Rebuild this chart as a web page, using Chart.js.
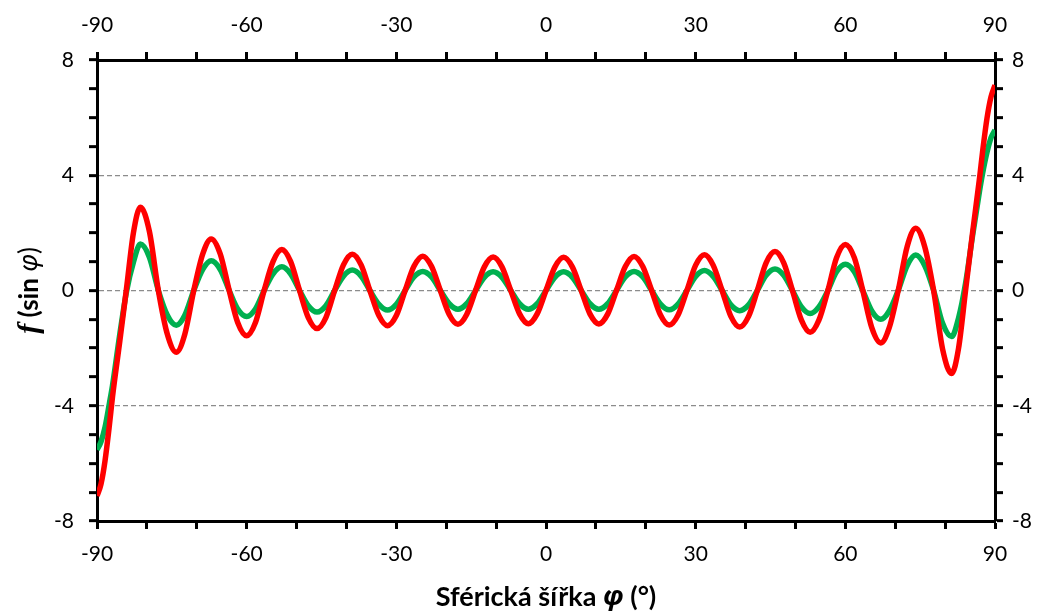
<!DOCTYPE html>
<html lang="cs">
<head>
<meta charset="utf-8">
<title>f(sin φ)</title>
<script src="https://cdn.jsdelivr.net/npm/chart.js@4/dist/chart.umd.min.js"></script>
<style>
  html, body { margin: 0; padding: 0; background: #fff; }
  #wrap { width: 1043px; height: 613px; }
</style>
</head>
<body>
<div id="wrap"><canvas id="chart" width="1043" height="613"></canvas></div>
<script>
// Hodnoty (zeměpisná šířka ve stupních)
const latitude = [
  -90, -89.2, -88.4, -87.5, -86.9, -85.5, -84.1, -82.7, -81.3, -79.5, -77.7, -75.9,
  -74.1, -72.4, -70.6, -68.8, -67.1, -65.3, -63.5, -61.8, -60.0, -58.24, -56.5, -54.7,
  -52.95, -51.2, -49.4, -47.65, -45.9, -44.12, -42.36, -40.6, -38.83, -37.06, -35.3, -33.5,
  -31.77, -30.0, -28.24, -26.47, -24.7, -22.95, -21.18, -19.4, -17.65, -15.9, -14.12, -12.36,
  -10.6, -8.83, -7.06, -5.3, -3.53, -1.77,
  0,
  1.77, 3.53, 5.3, 7.06, 8.83, 10.6, 12.36, 14.12, 15.9, 17.65, 19.4, 21.18,
  22.95, 24.7, 26.47, 28.24, 30.0, 31.77, 33.5, 35.3, 37.06, 38.83, 40.6, 42.36,
  44.12, 45.9, 47.65, 49.4, 51.2, 52.95, 54.7, 56.5, 58.24, 60.0, 61.8, 63.5,
  65.3, 67.1, 68.8, 70.6, 72.4, 74.1, 75.9, 77.7, 79.5, 81.3, 82.7, 84.1,
  85.5, 86.9, 87.5, 88.4, 89.2, 90
];

// červená křivka
const seriesRed = [
  -7.13, -6.72, -5.92, -4.65, -3.7, -1.85, 0.05, 2.0, 2.89, 2.05, 0, -1.52,
  -2.14, -1.52, 0, 1.27, 1.79, 1.27, 0, -1.11, -1.57, -1.11, 0, 1.01,
  1.42, 1.01, 0, -0.94, -1.32, -0.94, 0, 0.89, 1.26, 0.89, 0, -0.87,
  -1.22, -0.87, 0, 0.84, 1.19, 0.84, 0, -0.83, -1.17, -0.83, 0, 0.82,
  1.16, 0.82, 0, -0.81, -1.15, -0.81,
  0,
  0.81, 1.15, 0.81, 0, -0.82, -1.16, -0.82, 0, 0.83, 1.18, 0.83, 0,
  -0.85, -1.2, -0.85, 0, 0.88, 1.24, 0.88, 0, -0.9, -1.27, -0.9, 0,
  0.96, 1.35, 0.96, 0, -1.03, -1.45, -1.03, 0, 1.14, 1.6, 1.14, 0,
  -1.29, -1.82, -1.29, 0, 1.53, 2.16, 1.53, 0, -2.04, -2.88, -2.0, 0,
  2.0, 3.9, 4.8, 5.98, 6.72, 7.13
];

// zelená křivka
const seriesGreen = [
  -5.53, -5.25, -4.75, -3.9, -3.3, -1.6, -0.05, 0.98, 1.61, 1.15, 0, -0.86,
  -1.21, -0.86, 0, 0.73, 1.03, 0.73, 0, -0.64, -0.9, -0.64, 0, 0.58,
  0.82, 0.58, 0, -0.53, -0.75, -0.53, 0, 0.5, 0.71, 0.5, 0, -0.48,
  -0.68, -0.48, 0, 0.47, 0.66, 0.47, 0, -0.46, -0.65, -0.46, 0, 0.46,
  0.65, 0.46, 0, -0.46, -0.65, -0.46,
  0,
  0.46, 0.65, 0.46, 0, -0.46, -0.65, -0.46, 0, 0.47, 0.66, 0.47, 0,
  -0.47, -0.67, -0.47, 0, 0.49, 0.69, 0.49, 0, -0.5, -0.7, -0.5, 0,
  0.53, 0.75, 0.53, 0, -0.57, -0.8, -0.57, 0, 0.65, 0.91, 0.65, 0,
  -0.71, -1.0, -0.71, 0, 0.87, 1.23, 0.87, 0, -1.14, -1.6, -0.95, 0.25,
  1.9, 3.45, 4.05, 4.8, 5.3, 5.57
];

// popisky os
const xTickLabels = [-90, -60, -30, 0, 30, 60, 90];
const yTickLabels = [-8, -4, 0, 4, 8];
const yGridLines = [-4, 0, 4];

const FONT = "Lato, 'Open Sans', sans-serif";

const toPoints = (xs, ys) => xs.map((x, i) => ({ x: x, y: ys[i] }));

// vykreslení názvů os se smíšeným řezem písma
const drawParts = (ctx, parts, cx, cy) => {
  let total = 0;
  parts.forEach(p => {
    ctx.font = p.font;
    p.w = ctx.measureText(p.text).width;
    total += p.w;
  });
  let x = cx - total / 2;
  ctx.textAlign = 'left';
  ctx.textBaseline = 'middle';
  ctx.fillStyle = '#000';
  parts.forEach(p => {
    ctx.font = p.font;
    ctx.fillText(p.text, x, cy);
    x += p.w;
  });
};

const axisTitles = {
  id: 'axisTitles',
  afterDraw(chart) {
    const ctx = chart.ctx;
    const area = chart.chartArea;
    ctx.save();
    drawParts(ctx, [
      { text: 'Sférická šířka ', font: "bold 27px " + FONT },
      { text: 'φ', font: "italic bold 27px 'Noto Sans', 'DejaVu Sans', serif" },
      { text: ' (°)', font: "bold 27px " + FONT }
    ], (area.left + area.right) / 2, 597);
    ctx.restore();

    ctx.save();
    ctx.translate(30, (area.top + area.bottom) / 2);
    ctx.rotate(-Math.PI / 2);
    drawParts(ctx, [
      { text: 'f', font: "italic bold 30px 'Liberation Serif', 'DejaVu Serif', serif" },
      { text: ' (sin ', font: "bold 26px " + FONT },
      { text: 'φ', font: "italic 26px 'Noto Sans', 'DejaVu Sans', serif" },
      { text: ')', font: "26px " + FONT }
    ], 0, 0);
    ctx.restore();
  }
};

const tickFont = { family: FONT, size: 21 };

const xAxis = (position, padding, size) => ({
  type: 'linear',
  position: position,
  min: -90,
  max: 90,
  ticks: {
    stepSize: 10,
    autoSkip: false,
    maxRotation: 0,
    padding: padding,
    color: '#000',
    font: tickFont,
    callback: v => xTickLabels.includes(v) ? String(v) : ''
  },
  grid: { drawOnChartArea: false, tickLength: 8, tickWidth: 3, tickColor: '#000' },
  border: { color: '#000', width: 3 },
  afterFit: s => { s.height = size; }
});

const yAxis = (position, padding, size, withGrid) => ({
  type: 'linear',
  position: position,
  min: -8,
  max: 8,
  ticks: {
    stepSize: 1,
    autoSkip: false,
    padding: padding,
    color: '#000',
    font: tickFont,
    callback: v => yTickLabels.includes(v) ? String(v) : ''
  },
  grid: {
    drawOnChartArea: withGrid,
    tickLength: 8,
    tickWidth: 3,
    tickColor: '#000',
    lineWidth: 1.3,
    color: ctx => (ctx.tick && yGridLines.includes(ctx.tick.value)) ? '#8c8c8c' : 'rgba(0,0,0,0)'
  },
  border: { color: '#000', width: 3, dash: [5, 3] },
  afterFit: s => { s.width = size; }
});

const chart = new Chart(document.getElementById('chart'), {
  type: 'line',
  data: {
    datasets: [
      {
        label: 'červená',
        data: toPoints(latitude, seriesRed),
        borderColor: '#ff0000',
        borderWidth: 5.5,
        pointRadius: 0,
        fill: false,
        cubicInterpolationMode: 'monotone'
      },
      {
        label: 'zelená',
        data: toPoints(latitude, seriesGreen),
        borderColor: '#00b050',
        borderWidth: 5.5,
        pointRadius: 0,
        fill: false,
        cubicInterpolationMode: 'monotone'
      }
    ]
  },
  options: {
    responsive: false,
    animation: false,
    devicePixelRatio: 1,
    layout: { padding: 0 },
    plugins: {
      legend: { display: false },
      tooltip: { enabled: false }
    },
    scales: {
      x: xAxis('bottom', 13, 92),
      x2: xAxis('top', 14, 60),
      y: yAxis('left', 15, 97, true),
      y2: yAxis('right', 9, 48, false)
    }
  },
  plugins: [axisTitles]
});
</script>
</body>
</html>
